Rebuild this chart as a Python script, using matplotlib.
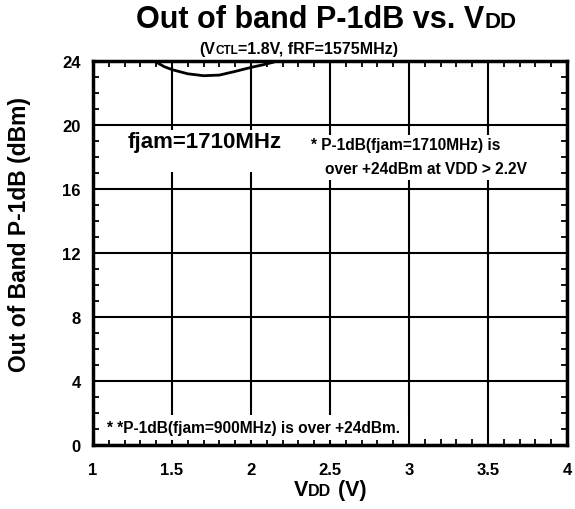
import numpy as np
import matplotlib.pyplot as plt
from matplotlib.patches import Rectangle
from matplotlib.transforms import Bbox
from matplotlib.ticker import MultipleLocator

plt.rcParams['font.family'] = ['Liberation Sans', 'DejaVu Sans']
plt.rcParams['font.weight'] = 'bold'

# fjam=1710MHz curve (leaves the plot above 24 dBm)
vdd = [1.37, 1.45, 1.5, 1.6, 1.7, 1.8, 1.9, 2.0, 2.07, 2.14, 2.2]
p1db = [24.1, 23.65, 23.46, 23.2, 23.08, 23.12, 23.35, 23.6, 23.75, 23.92, 24.15]

x_ticks = [1, 1.5, 2, 2.5, 3, 3.5, 4]
x_labels = ['1', '1.5', '2', '2.5', '3', '3.5', '4']
y_ticks = [0, 4, 8, 12, 16, 20, 24]


def seq_text(fig, xc, y, parts, **kw):
    """Place text pieces of different sizes side by side, centred at xc"""
    r = fig.canvas.get_renderer()
    texts = [fig.text(0, y, s, fontsize=sz, va='baseline', ha='left',
                      fontweight='bold', **kw) for s, sz in parts]
    widths = [t.get_window_extent(r).width for t in texts]
    x0 = xc * fig.bbox.width - sum(widths) / 2
    for t, w in zip(texts, widths):
        t.set_x(x0 / fig.bbox.width)
        x0 += w
    return texts


def white_box(ax, texts, left=4, right=4, top=4, bottom=4):
    """White patch behind texts so gridlines are hidden (pads in pixels)"""
    r = ax.figure.canvas.get_renderer()
    bb = Bbox.union([t.get_window_extent(r) for t in texts])
    inv = ax.transData.inverted()
    (x0, y0), (x1, y1) = inv.transform([(bb.x0 - left, bb.y0 - bottom),
                                        (bb.x1 + right, bb.y1 + top)])
    ax.add_patch(Rectangle((x0, y0), x1 - x0, y1 - y0, facecolor='white',
                           edgecolor='none', zorder=2.7))


fig = plt.figure(figsize=(5.75, 5.1), dpi=100)
ax = fig.add_axes([93 / 575, 64 / 510, 474 / 575, 384 / 510])

ax.plot(vdd, p1db, color='black', lw=2)

ax.set_xlim(1, 4)
ax.set_ylim(0, 24)
ax.set_xticks(x_ticks)
ax.set_xticklabels(x_labels)
ax.set_yticks(y_ticks)
ax.xaxis.set_minor_locator(MultipleLocator(0.1))
ax.yaxis.set_minor_locator(MultipleLocator(1))
ax.grid(True, which='major', color='black', lw=1.5)
ax.tick_params(which='both', direction='in', top=True, right=True,
               labelsize=12)
ax.tick_params(which='major', length=0)
ax.tick_params(axis='x', which='major', pad=12)
ax.tick_params(axis='y', which='major', pad=9)
ax.tick_params(which='minor', length=4, width=1.3)
for s in ax.spines.values():
    s.set_linewidth(2.5)
for lbl in ax.get_xticklabels() + ax.get_yticklabels():
    lbl.set_fontweight('bold')

t_fjam = ax.text(1.22, 18.6, 'fjam=1710MHz', fontsize=16, fontweight='bold',
                 zorder=3)
t_n1 = ax.text(2.38, 18.48, '* P-1dB(fjam=1710MHz) is', fontsize=11.2,
               fontweight='bold', zorder=3)
t_n2 = ax.text(2.466, 17.0, 'over +24dBm at VDD > 2.2V', fontsize=11.2,
               fontweight='bold', zorder=3)
t_n3 = ax.text(1.086, 0.8, '* *P-1dB(fjam=900MHz) is over +24dBm.',
               fontsize=11.2, fontweight='bold', zorder=3)
white_box(ax, [t_fjam], left=8, right=8, top=1, bottom=20)
white_box(ax, [t_n1, t_n2], left=6, right=6, top=2, bottom=4)
white_box(ax, [t_n3], left=6, right=8, top=5, bottom=5)

fig.text(20 / 575, 275 / 510, 'Out of Band P-1dB (dBm)', rotation=90,
         fontsize=16.5, fontweight='bold', ha='center', va='center')

seq_text(fig, 326 / 575, 482 / 510, [('Out of band P-1dB vs. V', 22),
                                     ('DD', 16)])
seq_text(fig, 299 / 575, 456 / 510, [('(V', 11.5), ('CTL', 8.5),
                                     ('=1.8V, fRF=1575MHz)', 11.5)])
seq_text(fig, 330 / 575, 14 / 510, [('V', 15.5), ('DD', 11.5), (' (V)', 15.5)])

fig.savefig('out.png', dpi=100)
